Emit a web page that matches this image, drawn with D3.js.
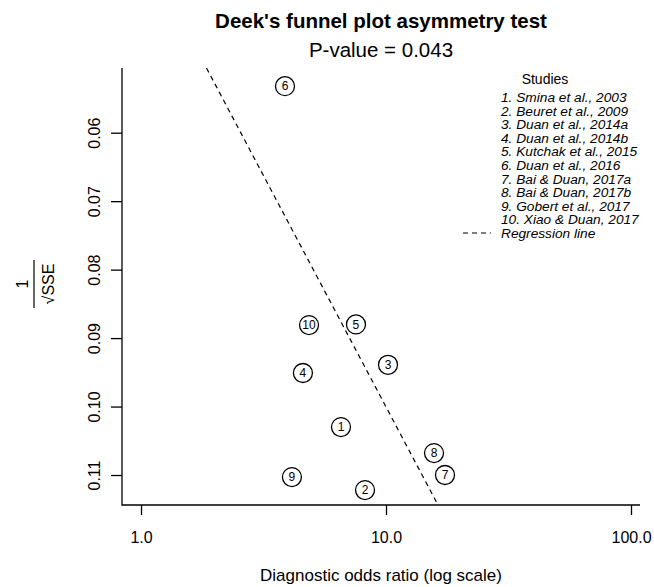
<!DOCTYPE html>
<html>
<head>
<meta charset="utf-8">
<script src="https://cdn.jsdelivr.net/npm/d3@7"></script>
<style>
  html, body { margin: 0; padding: 0; background: #fff; }
  svg { display: block; font-family: "Liberation Sans", Arial, Helvetica, sans-serif; }
</style>
</head>
<body>
<svg id="chart" width="654" height="587"></svg>
<script>
// ---- data ----
const studyIds = [1, 2, 3, 4, 5, 6, 7, 8, 9, 10];
const studyNames = [
  "Smina et al., 2003",
  "Beuret et al., 2009",
  "Duan et al., 2014a",
  "Duan et al., 2014b",
  "Kutchak et al., 2015",
  "Duan et al., 2016",
  "Bai & Duan, 2017a",
  "Bai & Duan, 2017b",
  "Gobert et al., 2017",
  "Xiao & Duan, 2017"
];
const dorValues = [6.55, 8.21, 10.19, 4.58, 7.54, 3.87, 17.41, 15.70, 4.13, 4.85];
const invSqrtESS = [0.1030, 0.1122, 0.0939, 0.0951, 0.0880, 0.0532, 0.1100, 0.1068, 0.1103, 0.0881];
const xTicks = [1, 10, 100];
const xTickLabels = ["1.0", "10.0", "100.0"];
const yTicks = [0.06, 0.07, 0.08, 0.09, 0.10, 0.11];
const yTickLabels = ["0.06", "0.07", "0.08", "0.09", "0.10", "0.11"];
// regression line: log10(DOR) = regIntercept + regSlope * (1/sqrt(ESS))
const regIntercept = -0.4812;
const regSlope = 14.805;
const titleText = "Deek's funnel plot asymmetry test";
const pValueText = "P-value = 0.043";
const xLabel = "Diagnostic odds ratio (log scale)";
const legendTitle = "Studies";
const legendLineLabel = "Regression line";

// ---- layout ----
(function () {
const svg = d3.select("#chart");
const pL = 122, pR = 640, pT = 68, pB = 505;
const cx = (pL + pR) / 2;

const x = d3.scaleLog().domain([Math.pow(10, -0.0776), Math.pow(10, 2.0367)]).range([pL, pR]);
const y = d3.scaleLinear().domain([0.05055, 0.11438]).range([pT, pB]);

// title
svg.append("text").attr("x", cx).attr("y", 28).attr("text-anchor", "middle")
  .attr("font-size", 20.5).attr("font-weight", "bold").text(titleText);
svg.append("text").attr("x", cx).attr("y", 57).attr("text-anchor", "middle")
  .attr("font-size", 20.5).text(pValueText);

// clip
svg.append("defs").append("clipPath").attr("id", "plotclip")
  .append("rect").attr("x", pL).attr("y", pT).attr("width", pR - pL).attr("height", pB - pT);

// L-shaped box
svg.append("path")
  .attr("d", `M${pL},${pT}V${pB}H${pR}`)
  .attr("fill", "none").attr("stroke", "#000").attr("stroke-width", 1.3);

// x axis
const xAxis = d3.axisBottom(x).tickValues(xTicks).tickSize(10).tickPadding(17)
  .tickFormat((d, i) => xTickLabels[i]);
const gx = svg.append("g").attr("transform", `translate(0,${pB})`).call(xAxis);
gx.select(".domain").remove();
gx.selectAll(".tick line").attr("stroke", "#000").attr("stroke-width", 1.3);
gx.selectAll(".tick text").attr("font-size", 16).attr("fill", "#000")
  .attr("font-family", "Liberation Sans, Arial, sans-serif");

// y axis
const yAxis = d3.axisLeft(y).tickValues(yTicks).tickSize(11).tickPadding(0)
  .tickFormat((d, i) => yTickLabels[i]);
const gy = svg.append("g").attr("transform", `translate(${pL},0)`).call(yAxis);
gy.select(".domain").remove();
gy.selectAll(".tick line").attr("stroke", "#000").attr("stroke-width", 1.3);
gy.selectAll(".tick text").attr("font-size", 16).attr("fill", "#000")
  .attr("font-family", "Liberation Sans, Arial, sans-serif")
  .attr("x", null).attr("dy", null)
  .attr("text-anchor", "middle")
  .attr("transform", "translate(-22,0) rotate(-90)");

// x label
svg.append("text").attr("x", cx).attr("y", 581).attr("text-anchor", "middle")
  .attr("font-size", 17).text(xLabel);

// y label (fraction 1 / sqrt(SSE))
const yl = svg.append("g").attr("transform", "translate(0,284) rotate(-90)");
yl.append("text").attr("x", 0).attr("y", 28).attr("text-anchor", "middle")
  .attr("font-size", 16).text("1");
yl.append("line").attr("x1", -24).attr("x2", 24).attr("y1", 34).attr("y2", 34)
  .attr("stroke", "#000").attr("stroke-width", 1.2);
yl.append("text").attr("x", 0).attr("y", 54).attr("text-anchor", "middle")
  .attr("font-size", 16).text("\u221ASSE");

// regression line
const yDom = y.domain();
const regPts = yDom.map(v => [x(Math.pow(10, regIntercept + regSlope * v)), y(v)]);
svg.append("line").attr("clip-path", "url(#plotclip)")
  .attr("x1", regPts[0][0]).attr("y1", regPts[0][1])
  .attr("x2", regPts[1][0]).attr("y2", regPts[1][1])
  .attr("stroke", "#000").attr("stroke-width", 1.2).attr("stroke-dasharray", "5,4");

// points
const pts = svg.append("g").selectAll("g").data(studyIds).join("g")
  .attr("transform", (d, i) => `translate(${x(dorValues[i])},${y(invSqrtESS[i])})`);
pts.append("circle").attr("r", 9.5).attr("fill", "none").attr("stroke", "#000").attr("stroke-width", 1.3);
pts.append("text").attr("text-anchor", "middle").attr("dy", "0.36em")
  .attr("font-size", 12).text(d => d);

// legend
const lg = svg.append("g");
lg.append("text").attr("x", 545).attr("y", 84).attr("text-anchor", "middle")
  .attr("font-size", 14).text(legendTitle);
const rowH = 13.6, row0 = 97;
lg.selectAll("text.item").data(studyNames).join("text").attr("class", "item")
  .attr("x", 501).attr("y", (d, i) => row0 + i * rowH).attr("dy", "0.36em")
  .attr("font-size", 13.7).attr("font-style", "italic")
  .text((d, i) => `${studyIds[i]}. ${d}`);
const lineRowY = row0 + studyNames.length * rowH;
lg.append("line").attr("x1", 463).attr("x2", 491).attr("y1", lineRowY).attr("y2", lineRowY)
  .attr("stroke", "#000").attr("stroke-width", 1.2).attr("stroke-dasharray", "5,4");
lg.append("text").attr("x", 501).attr("y", lineRowY).attr("dy", "0.36em")
  .attr("font-size", 13.7).attr("font-style", "italic").text(legendLineLabel);
})();
</script>
</body>
</html>
